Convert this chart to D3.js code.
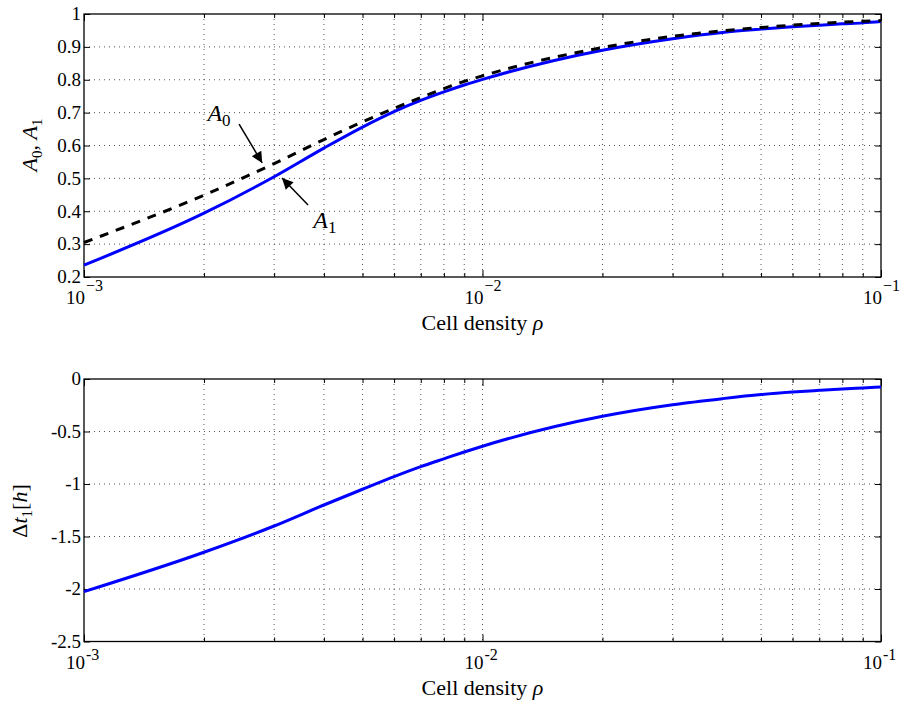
<!DOCTYPE html>
<html>
<head>
<meta charset="utf-8">
<script src="https://cdn.jsdelivr.net/npm/d3@7"></script>
<style>
  body { margin: 0; background: #fff; }
</style>
</head>
<body>
<svg id="chart" width="903" height="704"></svg>
<script>
// cell density values (x), shared by both panels
var rho = [0.001, 0.002, 0.003, 0.004, 0.005, 0.006, 0.007, 0.008, 0.009,
           0.01, 0.02, 0.03, 0.04, 0.05, 0.06, 0.07, 0.08, 0.09, 0.1];
// top panel
var a0 = [0.305, 0.449, 0.545, 0.618, 0.672, 0.713, 0.746, 0.773, 0.795,
          0.812, 0.898, 0.932, 0.949, 0.959, 0.966, 0.971, 0.975, 0.978, 0.980];
var a1 = [0.236, 0.394, 0.505, 0.592, 0.656, 0.703, 0.737, 0.763, 0.784,
          0.801, 0.890, 0.925, 0.944, 0.954, 0.961, 0.966, 0.970, 0.973, 0.977];
// bottom panel
var dt1 = [-2.025, -1.65, -1.40, -1.20, -1.05, -0.93, -0.835, -0.76, -0.695,
           -0.64, -0.355, -0.245, -0.187, -0.148, -0.124, -0.108, -0.095, -0.085, -0.076];

var xDecades = [0.001, 0.01, 0.1];
var xExp = ["3", "2", "1"];
var yTicksTop = [0.2, 0.3, 0.4, 0.5, 0.6, 0.7, 0.8, 0.9, 1];
var yTickLabelsTop = ["0.2", "0.3", "0.4", "0.5", "0.6", "0.7", "0.8", "0.9", "1"];
var yTicksBot = [-2.5, -2, -1.5, -1, -0.5, 0];
var yTickLabelsBot = ["-2.5", "-2", "-1.5", "-1", "-0.5", "0"];

var FONT = "'Liberation Serif', 'Times New Roman', serif";
var svg = d3.select("#chart");
var left = 84, right = 881;

var x = d3.scaleLog().domain([0.001, 0.1]).range([left, right]);
var minorX = [];
[0.001, 0.01].forEach(function(d) {
    for (var k = 2; k <= 9; k++) minorX.push(d * k);
});

function panel(top, bottom, yDomain, yTicks, yLabels, minus, supDy) {
    var y = d3.scaleLinear().domain(yDomain).range([bottom, top]);
    var g = svg.append("g");

    // grid
    g.selectAll(".vg").data(minorX.concat([0.01]))
        .enter().append("line")
        .attr("x1", function(d) { return x(d); }).attr("x2", function(d) { return x(d); })
        .attr("y1", top).attr("y2", bottom)
        .attr("stroke", "#555").attr("stroke-width", 1).attr("stroke-dasharray", "1,4");
    g.selectAll(".hg").data(yTicks.slice(1, -1))
        .enter().append("line")
        .attr("x1", left).attr("x2", right)
        .attr("y1", function(d) { return y(d); }).attr("y2", function(d) { return y(d); })
        .attr("stroke", "#555").attr("stroke-width", 1).attr("stroke-dasharray", "1,4");

    // inward ticks on all four sides
    var xb = d3.axisBottom(x).tickValues(xDecades).tickSizeInner(-7).tickSizeOuter(0).tickFormat("");
    var xt = d3.axisTop(x).tickValues(xDecades).tickSizeInner(-7).tickSizeOuter(0).tickFormat("");
    var xbm = d3.axisBottom(x).tickValues(minorX).tickSizeInner(-4).tickSizeOuter(0).tickFormat("");
    var xtm = d3.axisTop(x).tickValues(minorX).tickSizeInner(-4).tickSizeOuter(0).tickFormat("");
    var yl = d3.axisLeft(y).tickValues(yTicks).tickSizeInner(-6).tickSizeOuter(0).tickFormat("");
    var yr = d3.axisRight(y).tickValues(yTicks).tickSizeInner(-6).tickSizeOuter(0).tickFormat("");
    [[xb, "translate(0," + bottom + ")"], [xt, "translate(0," + top + ")"],
     [xbm, "translate(0," + bottom + ")"], [xtm, "translate(0," + top + ")"],
     [yl, "translate(" + left + ",0)"], [yr, "translate(" + right + ",0)"]].forEach(function(a) {
        var ax = g.append("g").attr("transform", a[1]).call(a[0]);
        ax.select(".domain").remove();
        ax.selectAll("line").attr("stroke", "#000");
    });

    g.append("rect").attr("x", left).attr("y", top)
        .attr("width", right - left).attr("height", bottom - top)
        .attr("fill", "none").attr("stroke", "#000").attr("stroke-width", 1.3);

    // tick labels
    g.selectAll(".yl").data(yTicks)
        .enter().append("text")
        .attr("x", left - 3).attr("y", function(d) { return y(d); })
        .attr("dy", "0.33em").attr("text-anchor", "end")
        .style("font-family", FONT).style("font-size", "19px")
        .text(function(d, i) { return yLabels[i]; });
    g.selectAll(".xl").data(xDecades)
        .enter().append("text")
        .attr("x", function(d) { return x(d) + 1; }).attr("y", bottom + 27)
        .attr("text-anchor", "end")
        .style("font-family", FONT).style("font-size", "19px").text("10");
    g.selectAll(".xe").data(xDecades)
        .enter().append("text")
        .attr("x", function(d) { return x(d) + 2; }).attr("y", bottom + 27 - supDy)
        .style("font-family", FONT).style("font-size", "16px")
        .text(function(d, i) { return minus + xExp[i]; });

    g.append("text").attr("x", (left + right) / 2).attr("y", bottom + 53)
        .attr("text-anchor", "middle")
        .style("font-family", FONT).style("font-size", "22px")
        .html("Cell density <tspan font-style='italic'>ρ</tspan>");
    return {g: g, y: y};
}

var p1 = panel(14, 277, [0.2, 1], yTicksTop, yTickLabelsTop, "\u2212", 13);
var p2 = panel(379, 641.5, [-2.5, 0], yTicksBot, yTickLabelsBot, "-", 9);

var line1 = d3.line().curve(d3.curveMonotoneX)
    .x(function(d) { return x(d[0]); }).y(function(d) { return p1.y(d[1]); });
p1.g.append("path").datum(d3.zip(rho, a1)).attr("d", line1)
    .attr("fill", "none").attr("stroke", "#0000ff").attr("stroke-width", 3);
p1.g.append("path").datum(d3.zip(rho, a0)).attr("d", line1)
    .attr("fill", "none").attr("stroke", "#000").attr("stroke-width", 3)
    .attr("stroke-dasharray", "9,8");

var line2 = d3.line().curve(d3.curveMonotoneX)
    .x(function(d) { return x(d[0]); }).y(function(d) { return p2.y(d[1]); });
p2.g.append("path").datum(d3.zip(rho, dt1)).attr("d", line2)
    .attr("fill", "none").attr("stroke", "#0000ff").attr("stroke-width", 3);

// y labels
svg.append("text").attr("transform", "translate(37,145) rotate(-90)")
    .attr("text-anchor", "middle")
    .style("font-family", FONT).style("font-size", "22px")
    .html("<tspan font-style='italic'>A</tspan><tspan font-size='15' dy='5'>0</tspan><tspan dy='-5'>, </tspan><tspan font-style='italic'>A</tspan><tspan font-size='15' dy='5'>1</tspan>");
svg.append("text").attr("transform", "translate(27,511) rotate(-90)")
    .attr("text-anchor", "middle")
    .style("font-family", FONT).style("font-size", "22px")
    .html("Δ<tspan font-style='italic'>t</tspan><tspan font-size='15' dy='5'>1</tspan><tspan dy='-5'>[</tspan><tspan font-style='italic'>h</tspan>]");

// annotations (data coordinates)
var defs = svg.append("defs");
defs.append("marker").attr("id", "ah").attr("viewBox", "0 0 10 10")
    .attr("refX", 10).attr("refY", 5).attr("markerWidth", 14).attr("markerHeight", 11)
    .attr("markerUnits", "userSpaceOnUse").attr("orient", "auto")
    .append("path").attr("d", "M0,0 L10,5 L0,10 Z").attr("fill", "#000");

var notes = [
    {label: "0", tx: 0.00204, ty: 0.675, x0: 0.00245, y0: 0.665, x1: 0.0028, y1: 0.547},
    {label: "1", tx: 0.00376, ty: 0.349, x0: 0.00365, y0: 0.419, x1: 0.00314, y1: 0.501}
];
notes.forEach(function(n) {
    p1.g.append("line").attr("x1", x(n.x0)).attr("y1", p1.y(n.y0))
        .attr("x2", x(n.x1)).attr("y2", p1.y(n.y1))
        .attr("stroke", "#000").attr("stroke-width", 1.5).attr("marker-end", "url(#ah)");
    p1.g.append("text").attr("x", x(n.tx)).attr("y", p1.y(n.ty))
        .style("font-family", FONT).style("font-size", "24px")
        .html("<tspan font-style='italic'>A</tspan><tspan font-size='17' dy='5'>" + n.label + "</tspan>");
});
</script>
</body>
</html>
